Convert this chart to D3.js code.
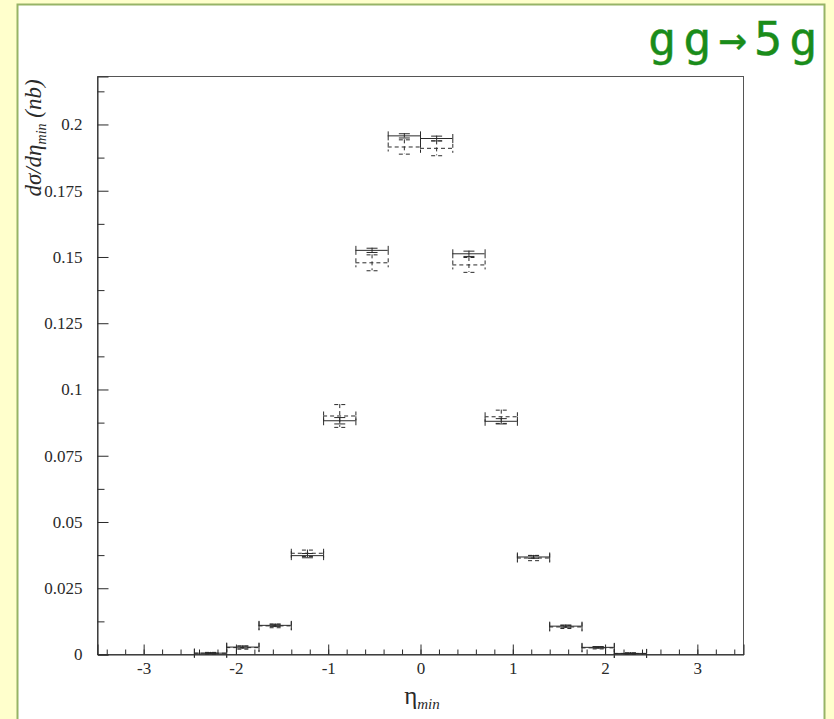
<!DOCTYPE html>
<html>
<head>
<meta charset="utf-8">
<script src="https://cdn.jsdelivr.net/npm/d3@7"></script>
<style>
  html, body { margin: 0; padding: 0; background: #ffffcc; }
  svg { display: block; }
</style>
</head>
<body>
<svg id="chart" width="834" height="719"></svg>
<script>
// Bin edges in eta_min (bins of width 0.35)
const binLow  = [-2.45, -2.10, -1.75, -1.40, -1.05, -0.70, -0.35, 0.00, 0.35, 0.70, 1.05, 1.40, 1.75, 2.10];
const binHigh = [-2.10, -1.75, -1.40, -1.05, -0.70, -0.35, 0.00, 0.35, 0.70, 1.05, 1.40, 1.75, 2.10, 2.45];

// Cross section per bin (nb), solid series and its uncertainty
const solidValue = [0.0005, 0.0028, 0.0110, 0.0373, 0.0882, 0.1525, 0.1957, 0.1947, 0.1512, 0.0880, 0.0368, 0.0107, 0.0027, 0.0004];
const solidError = [0.0002, 0.0004, 0.0004, 0.0008, 0.0012, 0.0008, 0.0008, 0.0009, 0.0010, 0.0010, 0.0005, 0.0004, 0.0003, 0.0002];

// Dashed series and its uncertainty
const dashValue = [0.0005, 0.0026, 0.0108, 0.0382, 0.0900, 0.1478, 0.1915, 0.1910, 0.1470, 0.0897, 0.0364, 0.0104, 0.0025, 0.0004];
const dashError = [0.0003, 0.0006, 0.0007, 0.0012, 0.0043, 0.0030, 0.0027, 0.0028, 0.0028, 0.0025, 0.0010, 0.0006, 0.0004, 0.0002];

// Axis ticks
const xTicks = [-3, -2, -1, 0, 1, 2, 3];
const xMinorTicks = d3.range(-34, 35, 2).map(v => v / 10);
const yTicks = [0, 0.025, 0.05, 0.075, 0.1, 0.125, 0.15, 0.175, 0.2];
const yTickLabels = ["0", "0.025", "0.05", "0.075", "0.1", "0.125", "0.15", "0.175", "0.2"];
const yMinorTicks = d3.range(1, 18, 2).map(v => v * 0.0125);

const svg = d3.select("#chart");

// White card with a green border
svg.append("rect")
  .attr("x", 17.5).attr("y", 4.5)
  .attr("width", 807).attr("height", 730)
  .attr("fill", "#ffffff")
  .attr("stroke", "#97b466").attr("stroke-width", 2);

const plot = { left: 97, top: 76, right: 743, bottom: 654 };

const x = d3.scaleLinear().domain([-3.5, 3.5]).range([plot.left, plot.right]);
const y = d3.scaleLinear().domain([0, 0.2181]).range([plot.bottom, plot.top]);

const ink = "#2a2a2a";
const serif = "'Liberation Serif', 'DejaVu Serif', serif";
const noLabel = () => "";

// Frame
svg.append("rect")
  .attr("x", plot.left + 0.5).attr("y", plot.top + 0.5)
  .attr("width", plot.right - plot.left).attr("height", plot.bottom - plot.top)
  .attr("fill", "none").attr("stroke", "#555").attr("stroke-width", 1);

// X axis: ticks point inward (up)
const xAxis = svg.append("g").attr("transform", `translate(0.5,${plot.bottom + 0.5})`);
xAxis.append("g")
  .call(d3.axisBottom(x).tickValues(xMinorTicks).tickSize(-5).tickFormat(noLabel))
  .call(g => g.select(".domain").remove());
xAxis.append("g").attr("class", "major")
  .call(d3.axisBottom(x).tickValues(xTicks).tickSize(-10).tickPadding(7)
    .tickFormat(d => d < 0 ? "-" + Math.abs(d) : String(d)))
  .call(g => g.select(".domain").attr("stroke", ink));
xAxis.selectAll("line").attr("stroke", ink);
xAxis.selectAll(".major text")
  .attr("font-family", serif).attr("font-size", 17).attr("fill", ink);

// Y axis: ticks point inward (right)
const yAxis = svg.append("g").attr("transform", `translate(${plot.left + 0.5},0.5)`);
yAxis.append("g")
  .call(d3.axisLeft(y).tickValues(yMinorTicks).tickSize(-7).tickFormat(noLabel))
  .call(g => g.select(".domain").remove());
yAxis.append("g").attr("class", "major")
  .call(d3.axisLeft(y).tickValues(yTicks).tickSize(-11).tickPadding(15)
    .tickFormat((d, i) => yTickLabels[i]))
  .call(g => g.select(".domain").attr("stroke", ink));
yAxis.selectAll("line").attr("stroke", ink);
yAxis.selectAll(".major text")
  .attr("font-family", serif).attr("font-size", 17).attr("fill", ink);

// Axis titles
const yTitle = svg.append("text")
  .attr("transform", "translate(41,138) rotate(-90)")
  .attr("text-anchor", "middle")
  .attr("font-family", serif)
  .attr("font-size", 23).attr("fill", ink);
yTitle.append("tspan").attr("font-style", "italic").text("dσ/dη");
yTitle.append("tspan").attr("font-style", "italic").attr("font-size", 14).attr("dy", 5).text("min");
yTitle.append("tspan").attr("font-style", "italic").attr("dy", -5).text(" (nb)");

const xTitle = svg.append("text")
  .attr("x", 422).attr("y", 704)
  .attr("text-anchor", "middle")
  .attr("font-family", serif)
  .attr("font-size", 25).attr("fill", ink);
xTitle.append("tspan").text("η");
xTitle.append("tspan").attr("font-style", "italic").attr("font-size", 15).attr("dy", 5).text("min");

// Data points with horizontal bin bars and vertical error bars
const rows = binLow.map((lo, i) => ({
  lo, hi: binHigh[i], mid: (lo + binHigh[i]) / 2,
  sv: solidValue[i], se: solidError[i], dv: dashValue[i], de: dashError[i]
}));

function drawSeries(cls, val, err, dash) {
  const g = svg.append("g").attr("class", cls)
    .attr("stroke", ink).attr("stroke-width", 1).attr("fill", "none")
    .attr("stroke-dasharray", dash);
  const pt = g.selectAll("g").data(rows).join("g");
  // horizontal bar across the bin
  pt.append("line")
    .attr("x1", d => x(d.lo)).attr("x2", d => x(d.hi))
    .attr("y1", d => y(val(d)) + 0.5).attr("y2", d => y(val(d)) + 0.5);
  // end caps
  pt.append("line")
    .attr("x1", d => x(d.lo) + 0.5).attr("x2", d => x(d.lo) + 0.5)
    .attr("y1", d => y(val(d)) - 4).attr("y2", d => y(val(d)) + 5);
  pt.append("line")
    .attr("x1", d => x(d.hi) + 0.5).attr("x2", d => x(d.hi) + 0.5)
    .attr("y1", d => y(val(d)) - 4).attr("y2", d => y(val(d)) + 5);
  // vertical error bar
  pt.append("line")
    .attr("x1", d => x(d.mid) + 0.5).attr("x2", d => x(d.mid) + 0.5)
    .attr("y1", d => y(val(d) + err(d))).attr("y2", d => y(val(d) - err(d)));
  pt.append("line")
    .attr("x1", d => x(d.mid) - 5).attr("x2", d => x(d.mid) + 6)
    .attr("y1", d => y(val(d) + err(d)) + 0.5).attr("y2", d => y(val(d) + err(d)) + 0.5);
  pt.append("line")
    .attr("x1", d => x(d.mid) - 5).attr("x2", d => x(d.mid) + 6)
    .attr("y1", d => y(val(d) - err(d)) + 0.5).attr("y2", d => y(val(d) - err(d)) + 0.5);
}

drawSeries("dashed", d => d.dv, d => d.de, "4,3");
drawSeries("solid", d => d.sv, d => d.se, null);

// Process label
svg.append("text")
  .attr("x", 648).attr("y", 55)
  .attr("font-family", "'DejaVu Sans Mono', monospace")
  .attr("font-size", 47).attr("letter-spacing", 7)
  .attr("fill", "#1a8c1a")
  .attr("stroke", "#1a8c1a").attr("stroke-width", 0.4)
  .text("gg→5g");
</script>
</body>
</html>
